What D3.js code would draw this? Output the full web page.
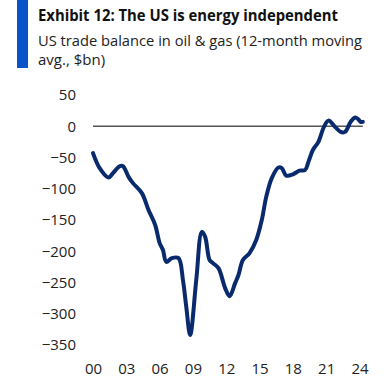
<!DOCTYPE html>
<html>
<head>
<meta charset="utf-8">
<script src="https://cdn.jsdelivr.net/npm/d3@7"></script>
<style>
  body { margin: 0; background: #fff; }
  text { font-family: "Open Sans", "Noto Sans", sans-serif; }
</style>
</head>
<body>
<div id="chart"></div>
<script>
var width = 392, height = 380;

// year (decimal) and trade balance ($bn)
var years = [2000.0, 2000.6, 2001.4, 2001.8, 2002.4, 2002.7, 2003.2, 2003.6, 2004.4, 2005.0,
  2005.6, 2006.0, 2006.3, 2006.6, 2007.1, 2007.7, 2008.1, 2008.4, 2008.75, 2009.3,
  2009.8, 2010.1, 2010.5, 2010.8, 2011.3, 2011.9, 2012.3, 2012.8, 2013.1, 2013.5,
  2014.1, 2014.7, 2015.2, 2015.6, 2016.1, 2016.7, 2017.0, 2017.4, 2018.0, 2018.6,
  2019.1, 2019.4, 2019.8, 2020.3, 2020.8, 2021.2, 2021.8, 2022.3, 2022.7, 2023.2,
  2023.6, 2023.9, 2024.1, 2024.3];
var balance = [-43, -67, -82, -75, -64, -64, -81, -91, -107, -134,
  -158, -187, -198, -217, -211, -211, -246, -289, -334, -246,
  -169, -177, -214, -219, -227, -259, -272, -251, -238, -214,
  -203, -182, -150, -113, -83, -66, -67, -79, -77, -71,
  -70, -57, -38, -25, -1, 9, -1, -9, -9, 7,
  14, 11, 7, 7];

var yTicks = [50, 0, -50, -100, -150, -200, -250, -300, -350];
var xTicks = [2000, 2003, 2006, 2009, 2012, 2015, 2018, 2021, 2024];

var svg = d3.select("#chart").append("svg")
  .attr("width", width)
  .attr("height", height);

// header
svg.append("rect").attr("x", 17).attr("y", 0).attr("width", 11).attr("height", 68)
  .attr("fill", "#0a52c9");
svg.append("text").attr("x", 38).attr("y", 21)
  .attr("font-size", 16).attr("font-weight", "bold").attr("fill", "#111")
  .attr("textLength", 300).attr("lengthAdjust", "spacingAndGlyphs")
  .text("Exhibit 12: The US is energy independent");
svg.append("text").attr("x", 38).attr("y", 46)
  .attr("font-size", 15).attr("fill", "#222")
  .attr("textLength", 324).attr("lengthAdjust", "spacingAndGlyphs")
  .text("US trade balance in oil & gas (12-month moving");
svg.append("text").attr("x", 38).attr("y", 65)
  .attr("font-size", 15).attr("fill", "#222")
  .text("avg., $bn)");

var x = d3.scaleLinear().domain([2000, 2024]).range([93, 359.5]);
var y = d3.scaleLinear().domain([50, -350]).range([95, 345]);

// y axis labels
svg.append("g")
  .attr("transform", "translate(76,0)")
  .call(d3.axisLeft(y).tickValues(yTicks).tickSize(0).tickPadding(0))
  .call(function(g) { g.select(".domain").remove(); })
  .selectAll("text")
  .attr("font-size", 15).attr("fill", "#222")
  .attr("font-family", "'Open Sans', sans-serif");

// x axis labels
svg.append("g")
  .attr("transform", "translate(0,363)")
  .call(d3.axisBottom(x).tickValues(xTicks).tickSize(0).tickPadding(0)
    .tickFormat(function(d) { return d3.format("02d")(d % 100); }))
  .call(function(g) { g.select(".domain").remove(); })
  .selectAll("text")
  .attr("font-size", 15).attr("fill", "#222")
  .attr("font-family", "'Open Sans', sans-serif");

// zero line
svg.append("line")
  .attr("x1", x(2000)).attr("x2", x(2024.3))
  .attr("y1", y(0)).attr("y2", y(0))
  .attr("stroke", "#555").attr("stroke-width", 1.5);

var line = d3.line()
  .x(function(d, i) { return x(years[i]); })
  .y(function(d) { return y(d); })
  .curve(d3.curveCatmullRom.alpha(0.5));

svg.append("path")
  .attr("d", line(balance))
  .attr("fill", "none")
  .attr("stroke", "#0a2a6e")
  .attr("stroke-width", 4)
  .attr("stroke-linejoin", "round")
  .attr("stroke-linecap", "round");
</script>
</body>
</html>
